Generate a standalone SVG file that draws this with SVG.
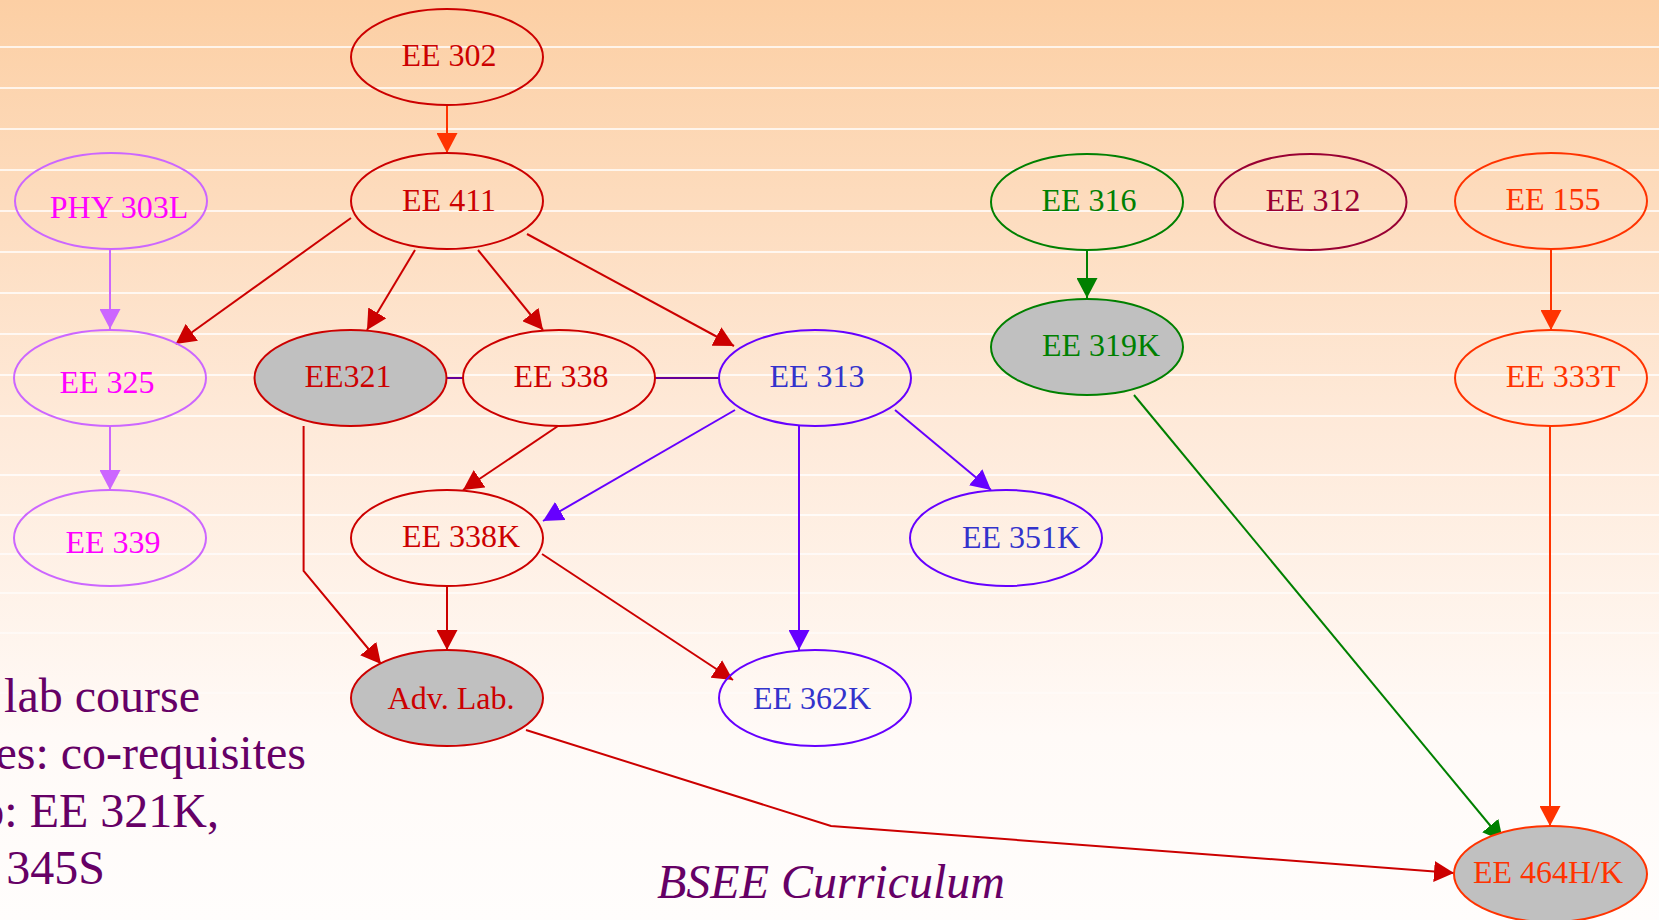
<svg xmlns="http://www.w3.org/2000/svg" width="1659" height="920" viewBox="0 0 1659 920">
<defs>
<linearGradient id="bg" x1="0" y1="0" x2="0" y2="1">
<stop offset="0" stop-color="#FCCFA4"/>
<stop offset="0.45" stop-color="#FEE9D8"/>
<stop offset="0.8" stop-color="#FFFAF7"/>
<stop offset="1" stop-color="#FFFDFC"/>
</linearGradient>
<marker id="aRed" markerUnits="userSpaceOnUse" markerWidth="20" markerHeight="21" refX="20" refY="10.5" orient="auto"><path d="M0,0 L20,10.5 L0,21 z" fill="#CC0000"/></marker>
<marker id="aOrange" markerUnits="userSpaceOnUse" markerWidth="20" markerHeight="21" refX="20" refY="10.5" orient="auto"><path d="M0,0 L20,10.5 L0,21 z" fill="#FF3300"/></marker>
<marker id="aLilac" markerUnits="userSpaceOnUse" markerWidth="20" markerHeight="21" refX="20" refY="10.5" orient="auto"><path d="M0,0 L20,10.5 L0,21 z" fill="#CC66FF"/></marker>
<marker id="aBlue" markerUnits="userSpaceOnUse" markerWidth="20" markerHeight="21" refX="20" refY="10.5" orient="auto"><path d="M0,0 L20,10.5 L0,21 z" fill="#6600FF"/></marker>
<marker id="aGreen" markerUnits="userSpaceOnUse" markerWidth="20" markerHeight="21" refX="20" refY="10.5" orient="auto"><path d="M0,0 L20,10.5 L0,21 z" fill="#008000"/></marker>
</defs>
<style>
.node ellipse{stroke-width:2;fill:none}
.node text{font-family:"Liberation Serif","Times New Roman",serif;font-size:32px;text-anchor:middle}
.gray ellipse{fill:#C0C0C0}
.red ellipse{stroke:#CC0000}.red text{fill:#CC0000}
.lilac ellipse{stroke:#CC66FF}.lilac text{fill:#FF00FF}
.blue ellipse{stroke:#6600FF}.blue text{fill:#3333CC}
.green ellipse{stroke:#008000}.green text{fill:#008000}
.wine ellipse{stroke:#990033}.wine text{fill:#990033}
.orange ellipse{stroke:#FF3300}.orange text{fill:#FF3300}
#edges path{fill:none;stroke-width:2}
.eRed{stroke:#CC0000;marker-end:url(#aRed)}
.eOrange{stroke:#FF3300;marker-end:url(#aOrange)}
.eLilac{stroke:#CC66FF;marker-end:url(#aLilac)}
.eBlue{stroke:#6600FF;marker-end:url(#aBlue)}
.eGreen{stroke:#008000;marker-end:url(#aGreen)}
.eCo{stroke:#660099}
.note{font-family:"Liberation Serif","Times New Roman",serif;font-size:48px;fill:#660066}
.bgline{stroke:#FFFFFF;stroke-width:1.5}
</style>
<rect x="0" y="0" width="1659" height="920" fill="url(#bg)"/>
<g id="background-lines">
<line class="bgline" x1="0" y1="47" x2="1659" y2="47"/>
<line class="bgline" x1="0" y1="88" x2="1659" y2="88"/>
<line class="bgline" x1="0" y1="129" x2="1659" y2="129"/>
<line class="bgline" x1="0" y1="170" x2="1659" y2="170"/>
<line class="bgline" x1="0" y1="211" x2="1659" y2="211"/>
<line class="bgline" x1="0" y1="252" x2="1659" y2="252"/>
<line class="bgline" x1="0" y1="293" x2="1659" y2="293"/>
<line class="bgline" x1="0" y1="334" x2="1659" y2="334"/>
<line class="bgline" x1="0" y1="375" x2="1659" y2="375"/>
<line class="bgline" x1="0" y1="416" x2="1659" y2="416"/>
<line class="bgline" x1="0" y1="475" x2="1659" y2="475"/>
<line class="bgline" x1="0" y1="515" x2="1659" y2="515"/>
<line class="bgline" x1="0" y1="554" x2="1659" y2="554" opacity="0.9"/>
<line class="bgline" x1="0" y1="593" x2="1659" y2="593" opacity="0.8"/>
<line class="bgline" x1="0" y1="633" x2="1659" y2="633" opacity="0.7"/>
<line class="bgline" x1="0" y1="693" x2="1659" y2="693" opacity="0.5"/>
</g>
<g id="edges">
<path class="eOrange" d="M447,105 L447,153"/>
<path class="eRed" d="M351,218 L175.6,344"/>
<path class="eRed" d="M415,250 L367,330"/>
<path class="eRed" d="M478,250 L543,330"/>
<path class="eRed" d="M527,234 L734,346"/>
<path class="eLilac" d="M110,250 L110,329"/>
<path class="eLilac" d="M110,426 L110,490"/>
<path class="eCo" d="M446,378 L463,378"/>
<path class="eCo" d="M655,378 L719,378"/>
<path class="eRed" d="M558,426 L463,490"/>
<path class="eBlue" d="M735,410 L543,521"/>
<path class="eBlue" d="M799,426 L799,650"/>
<path class="eBlue" d="M895,410 L991,490"/>
<path class="eRed" d="M303.6,426 L303.6,571 L381,664"/>
<path class="eRed" d="M447,586 L447,650"/>
<path class="eRed" d="M542,554 L733,680"/>
<path class="eRed" d="M526,730 L831,826 L1454,873"/>
<path class="eGreen" d="M1134,395 L1503,841"/>
<path class="eGreen" d="M1087,250 L1087,298"/>
<path class="eOrange" d="M1551,249 L1551,330"/>
<path class="eOrange" d="M1550,426 L1550,826"/>
</g>
<g id="n-ee302" class="node red"><ellipse cx="447" cy="57" rx="96" ry="48"/><text x="449" y="66">EE 302</text></g>
<g id="n-ee411" class="node red"><ellipse cx="447" cy="201" rx="96" ry="48"/><text x="449" y="211">EE 411</text></g>
<g id="n-phy303l" class="node lilac"><ellipse cx="111" cy="201" rx="96" ry="48"/><text x="119" y="218">PHY 303L</text></g>
<g id="n-ee325" class="node lilac"><ellipse cx="110" cy="378" rx="96" ry="48"/><text x="107" y="393">EE 325</text></g>
<g id="n-ee339" class="node lilac"><ellipse cx="110" cy="538" rx="96" ry="48"/><text x="113" y="553">EE 339</text></g>
<g id="n-ee321" class="node red gray"><ellipse cx="350.5" cy="378" rx="96" ry="48"/><text x="348" y="387">EE321</text></g>
<g id="n-ee338" class="node red"><ellipse cx="559" cy="378" rx="96" ry="48"/><text x="561" y="387">EE 338</text></g>
<g id="n-ee313" class="node blue"><ellipse cx="815" cy="378" rx="96" ry="48"/><text x="817" y="387">EE 313</text></g>
<g id="n-ee338k" class="node red"><ellipse cx="447" cy="538" rx="96" ry="48"/><text x="461" y="547">EE 338K</text></g>
<g id="n-ee351k" class="node blue"><ellipse cx="1006" cy="538" rx="96" ry="48"/><text x="1021" y="548">EE 351K</text></g>
<g id="n-advlab" class="node red gray"><ellipse cx="447" cy="698" rx="96" ry="48"/><text x="451" y="709">Adv. Lab.</text></g>
<g id="n-ee362k" class="node blue"><ellipse cx="815" cy="698" rx="96" ry="48"/><text x="812" y="709">EE 362K</text></g>
<g id="n-ee316" class="node green"><ellipse cx="1087" cy="202" rx="96" ry="48"/><text x="1089" y="211">EE 316</text></g>
<g id="n-ee319k" class="node green gray"><ellipse cx="1087" cy="347" rx="96" ry="48"/><text x="1101" y="356">EE 319K</text></g>
<g id="n-ee312" class="node wine"><ellipse cx="1310.5" cy="202" rx="96" ry="48"/><text x="1313" y="211">EE 312</text></g>
<g id="n-ee155" class="node orange"><ellipse cx="1551" cy="201" rx="96" ry="48"/><text x="1553" y="210">EE 155</text></g>
<g id="n-ee333t" class="node orange"><ellipse cx="1551" cy="378" rx="96" ry="48"/><text x="1563" y="387">EE 333T</text></g>
<g id="n-ee464hk" class="node orange gray"><ellipse cx="1550.5" cy="874" rx="96.5" ry="48"/><text x="1548" y="883">EE 464H/K</text></g>
<g id="notes">
<text class="note" x="200" y="712" text-anchor="end">lab course</text>
<text class="note" x="306" y="769" text-anchor="end">es: co-requisites</text>
<text class="note" x="219" y="827" text-anchor="end">o: EE 321K,</text>
<text class="note" x="105" y="884" text-anchor="end">345S</text>
<text class="note" x="657" y="898" font-style="italic">BSEE Curriculum</text>
</g>
</svg>
